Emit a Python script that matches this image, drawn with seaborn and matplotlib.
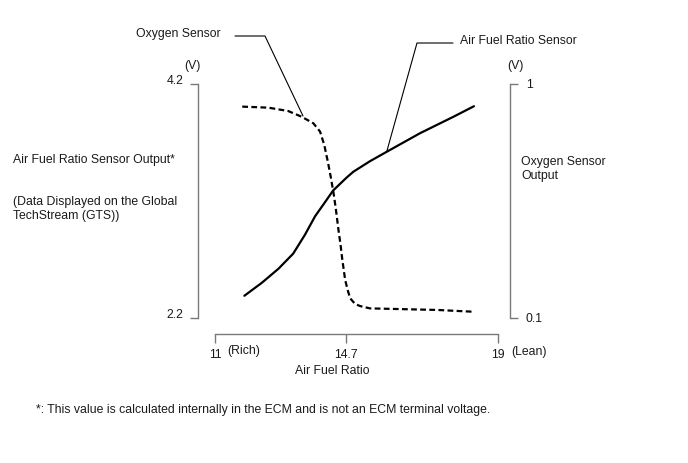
import matplotlib
matplotlib.use("Agg")
import matplotlib.pyplot as plt
import seaborn as sns
import pandas as pd

# ---------------- data ----------------
afr_x = [11.83, 12.32, 12.79, 13.21, 13.54, 13.83, 14.11, 14.34, 14.72, 14.91,
         15.38, 15.85, 16.80, 17.74, 18.32]
afr_v = [2.39, 2.50, 2.62, 2.75, 2.91, 3.07, 3.19, 3.29, 3.40, 3.45,
         3.54, 3.62, 3.78, 3.92, 4.01]

o2_x = [11.77, 12.51, 13.07, 13.45, 13.78, 13.97, 14.09, 14.19, 14.28, 14.36,
        14.42, 14.49, 14.55, 14.60, 14.68, 14.75, 14.82, 14.96, 15.10, 15.38,
        16.32, 17.27, 18.32]
o2_v = [0.913, 0.909, 0.896, 0.874, 0.849, 0.817, 0.765, 0.701, 0.637, 0.573,
        0.515, 0.439, 0.381, 0.323, 0.246, 0.208, 0.176, 0.154, 0.146, 0.137,
        0.134, 0.131, 0.124]

x_ticks = [11, 14.7, 19]
x_tick_labels = ["11", "14.7", "19"]
left_ticks = [2.2, 4.2]
left_tick_labels = ["2.2", "4.2"]
right_ticks = [0.1, 1]
right_tick_labels = ["0.1", "1"]

# leader lines (x, y) for the callouts
o2_leader_x = [11.565, 12.413, 13.488]
o2_leader_y = [1.1846, 1.1846, 0.877]
afr_leader_x = [17.728, 16.710, 15.854]
afr_leader_y = [4.5504, 4.5504, 3.6214]

afr_df = pd.DataFrame({"ratio": afr_x, "volt": afr_v})
o2_df = pd.DataFrame({"ratio": o2_x, "volt": o2_v})

# ---------------- style ----------------
sns.set_theme(style="white")
plt.rcParams["font.family"] = ["Liberation Sans", "DejaVu Sans"]
TXT = "#1a1a1a"
GRAY = "#7a7a7a"
FS = 8.8

W, H = 688, 463
fig = plt.figure(figsize=(W / 100, H / 100), dpi=100)
ax = fig.add_axes([215 / W, (H - 318) / H, 283 / W, 234 / H])
ax2 = ax.twinx()

sns.lineplot(data=afr_df, x="ratio", y="volt", ax=ax, color="black",
             lw=1.6, sort=False, estimator=None, solid_joinstyle="round")
sns.lineplot(data=o2_df, x="ratio", y="volt", ax=ax2, color="black",
             lw=1.6, sort=False, estimator=None, linestyle=(0, (2.6, 1.5)))

ax.plot(afr_leader_x, afr_leader_y, color="black", lw=0.8, clip_on=False)
ax2.plot(o2_leader_x, o2_leader_y, color="black", lw=0.8, clip_on=False)

ax.set_xlim(11, 19)
ax.set_ylim(2.2, 4.2)
ax2.set_ylim(0.1, 1)
ax.set_xlabel("")
ax.set_ylabel("")
ax2.set_ylabel("")

for s in ["top", "right"]:
    ax.spines[s].set_visible(False)
for s in ["top", "left", "bottom"]:
    ax2.spines[s].set_visible(False)
ax.spines["left"].set_position(("outward", 12.2))
ax.spines["bottom"].set_position(("outward", 11.5))
ax2.spines["right"].set_position(("outward", 8.6))
for sp in [ax.spines["left"], ax.spines["bottom"], ax2.spines["right"]]:
    sp.set_color(GRAY)
    sp.set_linewidth(1.0)

ax.set_xticks(x_ticks)
ax.set_xticklabels(x_tick_labels)
ax.set_yticks(left_ticks)
ax.set_yticklabels(left_tick_labels)
ax2.set_yticks(right_ticks)
ax2.set_yticklabels(right_tick_labels)

ax.tick_params(axis="x", bottom=True, direction="out", length=6.5, width=1.0,
               color=GRAY, pad=4.0, labelsize=FS, labelcolor=TXT)
ax.tick_params(axis="y", left=True, direction="out", length=5.8, width=1.0,
               color=GRAY, pad=4.5, labelsize=FS, labelcolor=TXT)
ax2.tick_params(axis="y", right=True, direction="out", length=5.8, width=1.0,
                color=GRAY, pad=5.5, labelsize=FS, labelcolor=TXT)
for lbl in ax.get_yticklabels():
    lbl.set_va("baseline")


def ftext(x, y, s, **kw):
    kw.setdefault("fontsize", FS)
    kw.setdefault("color", TXT)
    fig.text(x / W, 1 - y / H, s, **kw)


ftext(221, 34, "Oxygen Sensor", ha="right", va="center")
ftext(460, 41, "Air Fuel Ratio Sensor", ha="left", va="center")
ftext(192, 66, "(V)", ha="center", va="center")
ftext(515, 66, "(V)", ha="center", va="center")
ftext(13, 160, "Air Fuel Ratio Sensor Output*", ha="left", va="center")
ftext(13, 202, "(Data Displayed on the Global", ha="left", va="center")
ftext(13, 216, "TechStream (GTS))", ha="left", va="center")
ftext(521, 162, "Oxygen Sensor", ha="left", va="center")
ftext(521, 176, "Output", ha="left", va="center")
ftext(227, 351, "(Rich)", ha="left", va="center")
ftext(511, 352, "(Lean)", ha="left", va="center")
ftext(332, 371, "Air Fuel Ratio", ha="center", va="center")
ftext(36, 410, "*: This value is calculated internally in the ECM and is not an ECM terminal voltage.",
      ha="left", va="center")

fig.savefig("out.png", dpi=100)
